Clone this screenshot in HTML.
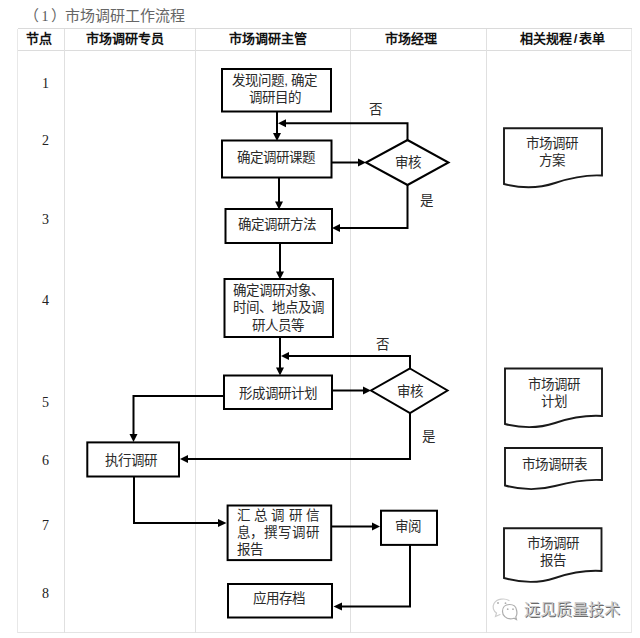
<!DOCTYPE html>
<html lang="zh-CN">
<head>
<meta charset="utf-8">
<style>
html,body{margin:0;padding:0;background:#fff;}
body{width:640px;height:638px;overflow:hidden;position:relative;font-family:"Liberation Sans",sans-serif;}
svg{position:absolute;left:0;top:0;}
.t{position:absolute;white-space:nowrap;color:#2a2a2a;font-size:13.5px;line-height:17px;}
.c{text-align:center;}
.h{position:absolute;font-weight:bold;font-size:13px;color:#111;white-space:nowrap;top:31px;line-height:16px;}
.n{position:absolute;font-family:"Liberation Serif",serif;font-size:14px;color:#222;line-height:14px;}
.j{display:flex;justify-content:space-between;}
</style>
</head>
<body>
<div class="t" style="left:24px;top:7px;font-size:15px;line-height:18px;color:#666;">（</div>
<div class="t" style="left:41.5px;top:10px;font-family:'Liberation Serif',serif;font-size:14px;line-height:14px;color:#555;">1</div>
<div class="t" style="left:50.9px;top:7px;font-size:15px;line-height:18px;color:#666;">）</div>
<div class="t" style="left:64.9px;top:7px;font-size:15px;line-height:18px;color:#666;">市场调研工作流程</div>

<svg width="640" height="638" viewBox="0 0 640 638">
 <g stroke-width="1" fill="none" shape-rendering="crispEdges">
  <line x1="17.5" y1="28.5" x2="631.5" y2="28.5" stroke="#dadada"/>
  <line x1="17.5" y1="50.5" x2="631.5" y2="50.5" stroke="#dcdcdc"/>
  <line x1="17.5" y1="632.5" x2="631.5" y2="632.5" stroke="#e4e4e4"/>
  <line x1="17.5" y1="28.5" x2="17.5" y2="632.5" stroke="#e8e8e8"/>
  <line x1="64.5" y1="28.5" x2="64.5" y2="632.5" stroke="#e0e0e0"/>
  <line x1="195.5" y1="28.5" x2="195.5" y2="632.5" stroke="#e0e0e0"/>
  <line x1="350.5" y1="28.5" x2="350.5" y2="632.5" stroke="#e0e0e0"/>
  <line x1="486.5" y1="28.5" x2="486.5" y2="632.5" stroke="#e0e0e0"/>
  <line x1="631.5" y1="28.5" x2="631.5" y2="632.5" stroke="#e8e8e8"/>
 </g>
 <g stroke="#000" stroke-width="2" fill="none">
  <!-- boxes -->
  <rect x="222" y="69" width="109" height="42.5"/>
  <rect x="222" y="140.5" width="109.5" height="37"/>
  <rect x="225.5" y="209" width="106.5" height="34"/>
  <rect x="224.5" y="279" width="108.5" height="58"/>
  <rect x="224" y="375.5" width="108" height="33.5"/>
  <rect x="87.3" y="442.4" width="91.7" height="34.1"/>
  <rect x="227.6" y="505.5" width="103.6" height="54.6"/>
  <rect x="381" y="510.7" width="56" height="34.2"/>
  <rect x="228" y="584" width="104" height="33.5"/>
  <!-- diamonds -->
  <polygon points="407.5,140 448.5,162.5 407.5,185 366,162.5"/>
  <polygon points="410,368.5 447.5,390.5 410,413 371,390.5"/>
  <!-- documents -->
  </g>
  <g stroke="#1a1a1a" stroke-width="1.9" fill="none">
  <path d="M504,184 L504,128.3 L602,128.3 L602,175.5 C585,174.5 570,178 555,183 C540,188 525,189.5 504,184 Z"/>
  <path d="M505,424 L505,368.5 L602,368.5 L602,416 C585,415 570,418 555,423 C540,428 525,429 505,424 Z"/>
  <path d="M505,485.5 L505,448 L602,448 L602,480 C585,479 570,482 555,486 C540,490 525,491 505,485.5 Z"/>
  <path d="M504,578 L504,528.3 L601.5,528.3 L601.5,571 C585,570 570,573 555,578 C540,583 525,584 504,578 Z"/>
  </g>
  <g stroke="#000" stroke-width="2" fill="none">
  <!-- connectors -->
  <polyline points="277,111 277,134"/>
  <polyline points="407.5,140 407.5,123.3 286,123.3"/>
  <polyline points="331,162.5 358,162.5"/>
  <polyline points="279,177 279,202"/>
  <polyline points="407.5,185 407.5,228 340,228"/>
  <polyline points="280,243 280,272"/>
  <polyline points="280,337 280,368"/>
  <polyline points="410,368.5 410,356 289,356"/>
  <polyline points="332,390.5 364,390.5"/>
  <polyline points="224,396 133.5,396 133.5,434"/>
  <polyline points="410,413 410,459 188,459"/>
  <polyline points="134,476 134,523 218,523"/>
  <polyline points="331,526.5 372,526.5"/>
  <polyline points="410,544 410,606.5 342,606.5"/>
 </g>
 <g fill="#000">
  <!-- arrowheads -->
  <polygon points="273,133 281,133 277,141"/>
  <polygon points="278,123.3 286,119.3 286,127.3"/>
  <polygon points="366,162.5 358,158.5 358,166.5"/>
  <polygon points="275,201.5 283,201.5 279,209.5"/>
  <polygon points="332,228 340,224 340,232"/>
  <polygon points="276,271.5 284,271.5 280,279.5"/>
  <polygon points="276,367.5 284,367.5 280,375.5"/>
  <polygon points="281,356 289,352 289,360"/>
  <polygon points="371,390.5 363,386.5 363,394.5"/>
  <polygon points="129.5,434 137.5,434 133.5,442"/>
  <polygon points="180,459 188,455 188,463"/>
  <polygon points="226.5,523 218,519 218,527"/>
  <polygon points="380,526.5 372,522.5 372,530.5"/>
  <polygon points="333.5,606.5 342,602.5 342,610.5"/>
 </g>
</svg>

<!-- headers -->
<div class="h" style="left:26px;">节点</div>
<div class="h" style="left:86px;">市场调研专员</div>
<div class="h" style="left:229px;">市场调研主管</div>
<div class="h" style="left:385px;">市场经理</div>
<div class="h" style="left:520px;">相关规程<span style="display:inline-block;width:7px;text-align:center">/</span>表单</div>

<!-- node numbers -->
<div class="n" style="left:42px;top:77px;">1</div>
<div class="n" style="left:42px;top:134px;">2</div>
<div class="n" style="left:42px;top:213px;">3</div>
<div class="n" style="left:42px;top:294px;">4</div>
<div class="n" style="left:42px;top:396px;">5</div>
<div class="n" style="left:42px;top:454px;">6</div>
<div class="n" style="left:42px;top:519px;">7</div>
<div class="n" style="left:42px;top:587px;">8</div>

<!-- box texts -->
<div class="t c" style="left:220px;top:72px;width:109px;line-height:17.3px;">发现问题,<span style="display:inline-block;width:2.5px"></span>确定<br><span style="position:relative;left:0.5px">调研目的</span></div>
<div class="t c" style="left:221px;top:149px;width:110px;">确定调研课题</div>
<div class="t c" style="left:223.5px;top:216px;width:107px;">确定调研方法</div>
<div class="t" style="left:232.5px;top:282px;line-height:17.4px;">确定调研对象、<br>时间、地点及调<br><span style="padding-left:19px">研人员等</span></div>
<div class="t c" style="left:223.5px;top:385px;width:108px;">形成调研计划</div>
<div class="t c" style="left:85.4px;top:452px;width:92px;">执行调研</div>
<div class="t" style="left:236.5px;top:506.5px;width:82.5px;line-height:17.4px;">
 <div class="j"><span>汇</span><span>总</span><span>调</span><span>研</span><span>信</span></div>
 <div class="j"><span>息</span><span>，</span><span>撰</span><span>写</span><span>调</span><span>研</span></div>
 <div>报告</div>
</div>
<div class="t c" style="left:380.2px;top:517.5px;width:56px;">审阅</div>
<div class="t c" style="left:227px;top:589.5px;width:104px;">应用存档</div>

<div class="t c" style="left:366px;top:154px;width:83px;">审核</div>
<div class="t c" style="left:371px;top:382.5px;width:77px;">审核</div>
<div class="t" style="left:369px;top:101px;">否</div>
<div class="t" style="left:420px;top:192px;">是</div>
<div class="t" style="left:376px;top:335.5px;">否</div>
<div class="t" style="left:422px;top:427.5px;">是</div>

<div class="t c" style="left:503.3px;top:134.5px;width:98px;">市场调研<br>方案</div>
<div class="t c" style="left:505px;top:375.7px;width:98px;">市场调研<br>计划</div>
<div class="t c" style="left:505px;top:455.5px;width:98px;">市场调研表</div>
<div class="t c" style="left:504px;top:534.5px;width:98px;">市场调研<br>报告</div>

<!-- watermark -->
<svg width="640" height="638" viewBox="0 0 640 638" style="pointer-events:none">
 <g fill="none" stroke-linecap="round">
  <path d="M509,600.5 C505,598 497,598.5 494,603.5 C492,607 493.5,611 496.5,613 L495.5,616.5 L500,614.5" stroke="#cdcdcd" stroke-width="1.2"/>
  <path d="M516.5,610 C516,606 512.5,604.5 509.5,604.5 C505,604.5 502.5,607.5 502.5,611.5 C502.5,615.5 506,618.8 510.5,618.8 C512,618.8 513,618.5 514,618.2 L516.5,619.5 L515.8,616.8 C517,615 517.2,612.5 516.5,610" stroke="#adadad" stroke-width="1.2"/>
 </g>
 <g fill="#b0b0b0">
  <circle cx="498" cy="603" r="1"/><circle cx="505.5" cy="603.2" r="0.9"/>
  <circle cx="507.7" cy="609.2" r="0.9"/><circle cx="513" cy="609.2" r="0.9"/>
 </g>
</svg>
<div class="t" style="left:524px;top:601px;font-size:16px;line-height:18px;color:#c9c9c9;text-shadow:0.8px 0.8px 0.6px #6a6a6a;">远见质量技术</div>
</body>
</html>
